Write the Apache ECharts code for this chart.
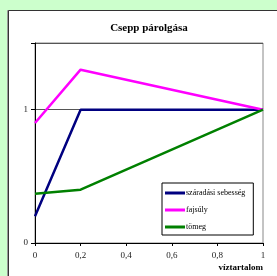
<!DOCTYPE html>
<html><head><meta charset="utf-8">
<script src="https://cdn.jsdelivr.net/npm/echarts@6/dist/echarts.min.js"></script>
<style>html,body{margin:0;padding:0;background:#ccffcc;}#c{width:277px;height:276px;}</style>
</head><body><div id="c"></div>
<script>
const titleText = 'Csepp párolgása';
const xName = 'víztartalom';
const seriesNames = ['száradási sebesség', 'fajsúly', 'tömeg'];
const seriesColors = ['#000080', '#ff00ff', '#008000'];
const xSzaradasi = [0, 0.2, 1];
const ySzaradasi = [0.2, 1, 1];
const xFajsuly = [0, 0.2, 1];
const yFajsuly = [0.9, 1.3, 1];
const xTomeg = [0, 0.2, 1];
const yTomeg = [0.37, 0.4, 1];
const xTicks = [0, 0.2, 0.4, 0.6, 0.8, 1];
const yTicks = [0, 1];

const font = 'Liberation Serif';
const pairs = (xs, ys) => xs.map((x, i) => [x, ys[i]]);
const chart = echarts.init(document.getElementById('c'), null, {renderer: 'canvas'});
chart.setOption({
  backgroundColor: '#ccffcc',
  animation: false,
  graphic: [
    {type: 'rect', z: -10, shape: {x: 7.5, y: 10.5, width: 300, height: 300},
      style: {fill: '#ffffff', stroke: '#999', lineWidth: 1}},
    {type: 'rect', z: -9, shape: {x: 8.5, y: 10.5, width: 300, height: 300},
      style: {fill: '#ffffff', stroke: '#333', lineWidth: 1}}
  ],
  title: {
    text: titleText, left: 144, top: 18, textAlign: 'center',
    textStyle: {fontFamily: font, fontSize: 11, fontWeight: 'bold', color: '#000'}
  },
  grid: {left: 35, top: 43, right: 14, bottom: 33, show: true, borderColor: '#888', borderWidth: 1, backgroundColor: 'transparent'},
  legend: {
    orient: 'vertical', left: 162, top: 183, width: 101,
    backgroundColor: '#fff', borderColor: '#000', borderWidth: 1,
    padding: [5, 8, 3, 3], itemGap: 7, itemWidth: 20, itemHeight: 3,
    icon: 'rect',
    textStyle: {fontFamily: font, fontSize: 8, color: '#000', lineHeight: 10, padding: [0, 0, 0, -4]},
    data: seriesNames
  },
  xAxis: {
    type: 'value', min: 0, max: 1, interval: 0.2,
    name: xName, nameLocation: 'end', nameGap: 0,
    nameTextStyle: {fontFamily: font, fontSize: 9, fontWeight: 'bold', color: '#000', align: 'right', verticalAlign: 'top', padding: [20, 0, 0, 0]},
    axisLine: {lineStyle: {color: '#000', width: 1}},
    axisTick: {show: true, length: 3, inside: false, lineStyle: {color: '#000'}},
    axisLabel: {fontFamily: font, fontSize: 9, color: '#222', margin: 8,
      formatter: v => xTicks.includes(+v.toFixed(1)) ? String(+v.toFixed(1)).replace('.', ',') : ''},
    splitLine: {show: false}
  },
  yAxis: {
    type: 'value', min: 0, max: 1.5, interval: 1,
    axisLine: {show: true, lineStyle: {color: '#000', width: 1}},
    axisTick: {show: true, length: 4, lineStyle: {color: '#000'}},
    axisLabel: {fontFamily: font, fontSize: 9, color: '#222', margin: 7,
      formatter: v => yTicks.includes(v) ? String(v) : ''},
    splitLine: {show: true, lineStyle: {color: '#555', width: 1}}
  },
  series: [
    {name: seriesNames[0], type: 'line', data: pairs(xSzaradasi, ySzaradasi), symbol: 'none', lineStyle: {width: 2.5, color: seriesColors[0]}, itemStyle: {color: seriesColors[0]}},
    {name: seriesNames[1], type: 'line', data: pairs(xFajsuly, yFajsuly), symbol: 'none', lineStyle: {width: 2.5, color: seriesColors[1]}, itemStyle: {color: seriesColors[1]}},
    {name: seriesNames[2], type: 'line', data: pairs(xTomeg, yTomeg), symbol: 'none', lineStyle: {width: 2.5, color: seriesColors[2]}, itemStyle: {color: seriesColors[2]}}
  ]
});
</script></body></html>
